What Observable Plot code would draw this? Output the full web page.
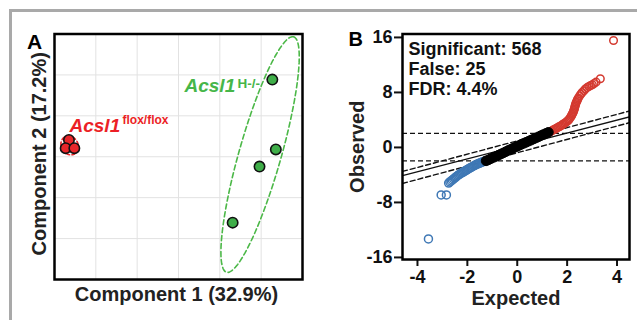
<!DOCTYPE html>
<html><head><meta charset="utf-8">
<script src="https://cdn.jsdelivr.net/npm/d3@7"></script>
<script src="https://cdn.jsdelivr.net/npm/@observablehq/plot@0.6"></script>
<style>
body{margin:0;background:#fff;}
#wrap{position:relative;width:637px;height:320px;overflow:hidden;font-family:"Liberation Sans",Arial,sans-serif;background:#fff;}
#border{position:absolute;left:9px;top:9px;width:700px;height:400px;border-top:3px solid #a9a9a9;border-left:3px solid #a9a9a9;}
#pa{position:absolute;left:0;top:0;}
#pb{position:absolute;left:320px;top:0;}
</style></head><body>
<div id="wrap"><div id="border"></div><div id="pa"></div><div id="pb"></div></div>
<script>
// ---- Panel A data (PCA scores) ----
const floxX = [0.35, 0.27, 0.48];
const floxY = [3.41, 3.21, 3.21];
const hX = [5.27, 5.355, 4.96, 4.31];
const hY = [4.885, 3.18, 2.76, 1.39];
const gridTicks = [1, 2, 3, 4, 5];
const groupLabels = ["Acsl1", "Acsl1"];
const groupSups = ["flox/flox", "H-/-"];
const supSizes = [12, 13.5];
const labelX = [0.363, 3.145];
const labelY = [3.61, 4.585];
const supX = [1.645, 4.43];
const supY = [3.805, 4.68];

// ---- Panel B data (SAM plot) ----
const blackX = [-1.25,-1.15,-1.05,-0.95,-0.85,-0.75,-0.65,-0.55,-0.45,-0.35,-0.25,-0.15,-0.05,0.05,0.15,0.25,0.35,0.45,0.55,0.65,0.75,0.85,0.95,1.05,1.15,1.25];
const blackY = [-1.95,-1.80,-1.62,-1.45,-1.30,-1.12,-0.95,-0.78,-0.60,-0.42,-0.25,-0.08,0.08,0.25,0.42,0.58,0.74,0.90,1.06,1.22,1.38,1.55,1.72,1.88,2.04,2.20];
const blueX = [-1.30,-1.35,-1.40,-1.45,-1.50,-1.55,-1.60,-1.65,-1.70,-1.75,-1.80,-1.85,-1.90,-1.95,-2.00,-2.05,-2.10,-2.15,-2.20,-2.25,-2.30,-2.35,-2.40,-2.45,-2.50,-2.55,-2.60,-2.65,-2.70,-2.75,-2.84,-3.05,-3.56];
const blueY = [-1.98,-2.05,-2.12,-2.2,-2.28,-2.35,-2.42,-2.5,-2.6,-2.7,-2.8,-2.9,-3.0,-3.1,-3.22,-3.33,-3.44,-3.55,-3.65,-3.75,-3.87,-4.0,-4.12,-4.27,-4.42,-4.58,-4.72,-4.87,-5.02,-5.18,-6.9,-6.9,-13.3];
const redX = [1.30,1.35,1.40,1.45,1.50,1.55,1.60,1.65,1.70,1.75,1.80,1.85,1.90,1.95,2.00,2.05,2.08,2.12,2.15,2.18,2.20,2.23,2.25,2.27,2.29,2.30,2.32,2.33,2.35,2.37,2.40,2.42,2.45,2.50,2.55,2.60,2.67,2.73,2.80,2.87,2.94,3.01,3.08,3.16,3.33,3.86];
const redY = [2.25,2.35,2.45,2.55,2.65,2.75,2.85,2.95,3.05,3.15,3.28,3.4,3.52,3.65,3.8,3.95,4.1,4.3,4.48,4.65,4.82,5.0,5.2,5.4,5.6,5.8,6.0,6.2,6.4,6.6,6.8,7.0,7.2,7.5,7.75,8.0,8.25,8.5,8.7,8.87,9.0,9.12,9.3,9.5,10.0,15.56];
const lineX = [-4.6, 4.5];
const solidY = [-4.11, 4.44];
const upperY = [-3.49, 5.30];
const lowerY = [-5.24, 3.60];
const cutoffs = [2.05, -1.95];
const xTicks = [-4, -2, 0, 2, 4];
const yTicks = [-16, -8, 0, 8, 16];
const annotation = ["Significant: 568", "False: 25", "FDR: 4.4%"];

const FONT = '"Liberation Sans", Arial, Helvetica, sans-serif';
const zip = (xs, ys) => xs.map((x, i) => ({x, y: ys[i]}));

function ellipse(xs, ys, k, n = 90) {
  const m = xs.length, mx = d3.mean(xs), my = d3.mean(ys);
  let sxx = 0, syy = 0, sxy = 0;
  for (let i = 0; i < m; i++) {
    const dx = xs[i] - mx, dy = ys[i] - my;
    sxx += dx * dx; syy += dy * dy; sxy += dx * dy;
  }
  sxx /= m - 1; syy /= m - 1; sxy /= m - 1;
  const tr = sxx + syy, det = sxx * syy - sxy * sxy;
  const disc = Math.sqrt(Math.max(0, tr * tr / 4 - det));
  const l1 = tr / 2 + disc, l2 = Math.max(0, tr / 2 - disc);
  const ang = Math.atan2(l1 - sxx, sxy);
  const a = k * Math.sqrt(l1), b = k * Math.sqrt(l2);
  return d3.range(n).map(i => {
    const t = 2 * Math.PI * i / n, u = a * Math.cos(t), v = b * Math.sin(t);
    return {x: mx + u * Math.cos(ang) - v * Math.sin(ang), y: my + u * Math.sin(ang) + v * Math.cos(ang)};
  });
}

const RED = "#e8262a", GREEN = "#3fae49";
const labels = groupLabels.map((t, i) => ({t, s: groupSups[i], fs: supSizes[i], x: labelX[i], y: labelY[i], sx: supX[i], sy: supY[i], c: i === 0 ? "#ec1f26" : "#46b649"}));

const A = Plot.plot({
  width: 320, height: 320,
  marginLeft: 54, marginRight: 18, marginTop: 33.5, marginBottom: 41,
  x: {domain: [0, 6], axis: null},
  y: {domain: [0, 6], axis: null},
  style: {fontFamily: FONT, background: "transparent", overflow: "visible"},
  marks: [
    Plot.gridX(gridTicks, {stroke: "#e2e2e2", strokeOpacity: 1, strokeWidth: 1}),
    Plot.gridY(gridTicks, {stroke: "#e2e2e2", strokeOpacity: 1, strokeWidth: 1}),
    Plot.line(ellipse(floxX, floxY, 2), {x: "x", y: "y", curve: "linear-closed", stroke: RED, strokeWidth: 1.6, strokeDasharray: "4,2.5"}),
    Plot.line(ellipse(hX, hY, 2), {x: "x", y: "y", curve: "linear-closed", stroke: "#4cb848", strokeWidth: 1.6, strokeDasharray: "5,3"}),
    Plot.dot(zip(floxX, floxY), {x: "x", y: "y", r: 5.2, fill: RED, stroke: "#111", strokeWidth: 1.6}),
    Plot.dot(zip(hX, hY), {x: "x", y: "y", r: 5.2, fill: GREEN, stroke: "#111", strokeWidth: 1.6}),
    Plot.text(labels, {x: "x", y: "y", text: "t", fill: "c", textAnchor: "start", lineAnchor: "bottom", fontSize: 19, fontWeight: "bold", fontStyle: "italic"}),
    Plot.text(labels, {x: "sx", y: "sy", text: "s", fill: "c", textAnchor: "start", lineAnchor: "bottom", fontSize: "fs", fontWeight: "bold"}),
    Plot.frame({stroke: "#000", strokeWidth: 2.5}),
    Plot.text(["A"], {frameAnchor: "top-left", textAnchor: "start", lineAnchor: "bottom", dx: -27.5, dy: 14.5, fontSize: 21, fontWeight: "bold", fill: "#000"}),
    Plot.text(["Component 2 (17.2%)"], {frameAnchor: "left", textAnchor: "middle", rotate: -90, lineAnchor: "bottom", dx: -9, dy: -3, fontSize: 20, fontWeight: "bold", fill: "#222"}),
    Plot.text(["Component 1 (32.9%)"], {frameAnchor: "bottom", textAnchor: "middle", lineAnchor: "bottom", dx: -2, dy: 21, fontSize: 20, fontWeight: "bold", fill: "#222"})
  ]
});
document.getElementById("pa").appendChild(A);

const B = Plot.plot({
  width: 317, height: 320,
  marginLeft: 82, marginRight: 8, marginTop: 33.5, marginBottom: 61,
  x: {domain: [-4.6, 4.5]},
  y: {domain: [-16.3, 16.5]},
  style: {fontFamily: FONT, fontSize: "18px", fontWeight: "bold", background: "transparent", overflow: "visible", color: "#111"},
  marks: [
    Plot.axisX({ticks: xTicks, tickSize: 7, tickPadding: 4, tickFormat: d => String(d), label: null, strokeWidth: 2, fontSize: 18, fontWeight: "bold"}),
    Plot.axisY({ticks: yTicks, tickSize: 8, tickPadding: 2, tickFormat: d => String(d), label: null, strokeWidth: 2, fontSize: 18, fontWeight: "bold"}),
    Plot.ruleY(cutoffs, {stroke: "#111", strokeWidth: 1.4, strokeDasharray: "5,3"}),
    Plot.line(zip(lineX, upperY), {x: "x", y: "y", stroke: "#111", strokeWidth: 1.4, strokeDasharray: "5,3", clip: true}),
    Plot.line(zip(lineX, lowerY), {x: "x", y: "y", stroke: "#111", strokeWidth: 1.4, strokeDasharray: "5,3", clip: true}),
    Plot.line(zip(lineX, solidY), {x: "x", y: "y", stroke: "#111", strokeWidth: 1.4, clip: true}),
    Plot.dot(zip(blueX, blueY), {x: "x", y: "y", r: 4, stroke: "#3f78b5", strokeWidth: 1.5, fill: "none"}),
    Plot.dot(zip(redX, redY), {x: "x", y: "y", r: 3.8, stroke: "#d43a30", strokeWidth: 1.5, fill: "none"}),
    Plot.dot(zip(blackX, blackY), {x: "x", y: "y", r: 4.8, fill: "#000", stroke: "#000", strokeWidth: 1}),
    Plot.text([annotation.join("\n")], {frameAnchor: "top-left", textAnchor: "start", lineAnchor: "top", lineHeight: 1.111, dx: 6, dy: 7, fontSize: 18, fontWeight: "bold", fill: "#111"}),
    Plot.frame({stroke: "#000", strokeWidth: 2.5}),
    Plot.text(["B"], {frameAnchor: "top-left", textAnchor: "start", lineAnchor: "bottom", dx: -54, dy: 12, fontSize: 20, fontWeight: "bold", fill: "#000"}),
    Plot.text(["Observed"], {frameAnchor: "left", textAnchor: "middle", rotate: -90, lineAnchor: "bottom", dx: -39, fontSize: 20, fontWeight: "bold", fill: "#222"}),
    Plot.text(["Expected"], {frameAnchor: "bottom", textAnchor: "middle", lineAnchor: "bottom", dy: 45, fontSize: 20, fontWeight: "bold", fill: "#222"})
  ]
});
document.getElementById("pb").appendChild(B);
</script>
</body></html>
